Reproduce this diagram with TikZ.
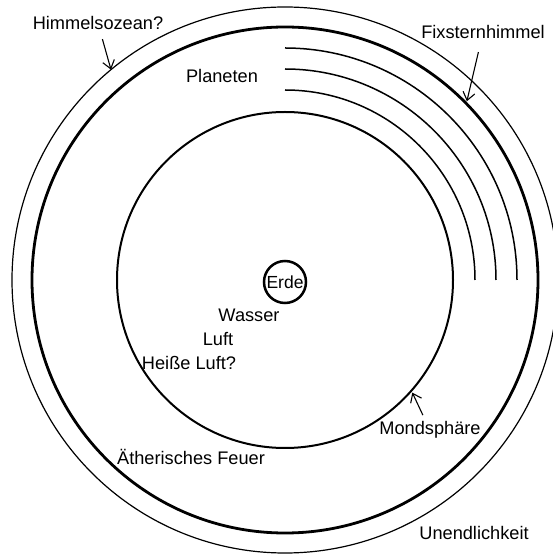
\documentclass[tikz,border=0pt]{standalone}
\usepackage{fontspec}
\setmainfont{Liberation Sans}
\usepackage{tikz}
\usetikzlibrary{arrows.meta, calc}

\begin{document}
\begin{tikzpicture}[x=1pt, y=1pt, font=\fontsize{18.2}{21}\selectfont,
    pfeil/.style={-{Straight Barb[length=8pt,width=12pt]}, line width=1.1pt},
    lbl/.style={anchor=base, inner sep=2pt}]
    \useasboundingbox (0,0) rectangle (553,557);
    % Sphären
    \coordinate (m) at (285,277);
    \draw[line width=1.2pt] (m) circle (273pt);
    \draw[line width=2.8pt] (m) circle (253pt);
    \draw[line width=2pt] (m) circle (168pt);
    % Planetenbahnen
    \foreach \r in {190,211,232}{
        \draw[line width=1.5pt] ($(m)+(0,\r)$) arc (90:0:\r pt);
    }
    \node[draw, circle, line width=2.5pt, minimum size=42pt, inner sep=0pt,
          font=\fontsize{17.5}{21}\selectfont] (erde) at (285,275) {Erde};
    % Beschriftungen
    \node[lbl] (hoz) at (98,527) {Himmelsozean?};
    \node[lbl] (fix) at (483,518) {Fixsternhimmel};
    \node[lbl] (pla) at (222,474) {Planeten};
    \node[lbl] (was) at (249,235) {Wasser};
    \node[lbl] (luf) at (218,211) {Luft};
    \node[lbl] (hei) at (189,187) {Heiße Luft?};
    \node[lbl] (mon) at (430,122) {Mondsphäre};
    \node[lbl] (aet) at (191,92) {Ätherisches Feuer};
    \node[lbl] (une) at (474,17) {Unendlichkeit};
    % Pfeile
    \coordinate (hozend) at ($(m)+(129.6:273)$);
    \coordinate (fixend) at ($(m)+(44.5:255)$);
    \coordinate (monend) at ($(m)+(-41.5:170)$);
    \draw[pfeil, shorten <=7pt] (hoz) -- (hozend);
    \draw[pfeil, shorten <=11pt] (fix) -- (fixend);
    \draw[pfeil, shorten <=5pt] (mon) -- (monend);
\end{tikzpicture}
\end{document}
